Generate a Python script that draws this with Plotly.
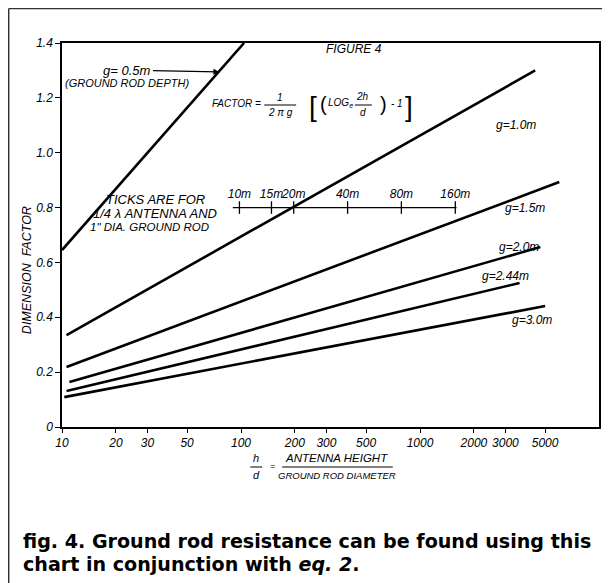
import plotly.graph_objects as go

# lines of the chart, one per ground rod depth g (straight on the log axis)
g_labels = ["g= 0.5m", "g=1.0m", "g=1.5m", "g=2.0m", "g=2.44m", "g=3.0m"]
hd_start = [10, 10.6, 10.6, 11, 10.6, 10.3]
hd_end = [104, 4400, 6000, 4700, 3600, 5000]
y_start = [0.645, 0.335, 0.219, 0.164, 0.131, 0.109]
y_end = [1.40, 1.30, 0.893, 0.656, 0.525, 0.441]

# quarter-wave antenna ticks (1" rod)
scale_labels = ["10m", "15m", "20m", "40m", "80m", "160m"]
scale_hd = [98, 148, 197, 394, 787, 1575]
scale_y = 0.80
scale_span = [90, 1600]

x_ticks = [10, 20, 30, 50, 100, 200, 300, 500, 1000, 2000, 3000, 5000]
y_ticks = [0, 0.2, 0.4, 0.6, 0.8, 1.0, 1.2, 1.4]
y_ticktext = ["0", "0.2", "0.4", "0.6", "0.8", "1.0", "1.2", "1.4"]

FONT = "Liberation Sans"
# page body has an 8px margin, so window pixels are shifted by OFF
OFF = 8
W, H = 610 - OFF, 583 - OFF
L, R, T, B = 62, 601, 43, 427


def px(x):
    return (x - L) / (R - L)


def py(y):
    return (B - y) / (B - T)


fig = go.Figure()
for i in range(len(g_labels)):
    fig.add_trace(go.Scatter(
        x=[hd_start[i], hd_end[i]], y=[y_start[i], y_end[i]],
        mode="lines", line=dict(color="black", width=2.6),
        name=g_labels[i], showlegend=False, cliponaxis=False,
    ))

fig.add_trace(go.Scatter(
    x=scale_span, y=[scale_y, scale_y], mode="lines",
    line=dict(color="black", width=1.2), showlegend=False,
))
fig.add_trace(go.Scatter(
    x=scale_hd, y=[scale_y] * len(scale_hd), mode="markers+text",
    marker=dict(symbol="line-ns-open", size=9, color="black",
                line=dict(color="black", width=1.3)),
    text=["<i>%s</i>" % s for s in scale_labels], textposition="top center",
    textfont=dict(family=FONT, size=12, color="black"), showlegend=False,
))

anns = []


def ann(text, x, y, size=12, xanchor="left", yanchor="middle", **kw):
    anns.append(dict(text=text, x=px(x), y=py(y), xref="paper", yref="paper",
                     xanchor=xanchor, yanchor=yanchor, showarrow=False,
                     font=dict(family=kw.pop("family", FONT), size=size, color="black"), **kw))


# curve labels
ann("<i>g=1.0m</i>", 496, 125)
ann("<i>g=1.5m</i>", 505, 208)
ann("<i>g=2.0m</i>", 499, 247)
ann("<i>g=2.44m</i>", 482, 276)
ann("<i>g=3.0m</i>", 512, 320)
ann("<i>(GROUND ROD DEPTH)</i>", 63, 83, size=11)
anns.append(dict(text="<i>g= 0.5m</i>", x=px(220), y=py(72), xref="paper", yref="paper",
                 ax=-92, ay=-2, showarrow=True, arrowhead=2, arrowsize=1,
                 arrowwidth=1.2, arrowcolor="black",
                 font=dict(family=FONT, size=13, color="black")))
ann("<i>FIGURE 4</i>", 355, 49, xanchor="center", size=12)
ann("<i>TICKS ARE FOR</i>", 156, 199, xanchor="center", size=13)
ann("<i>1/4 \u03bb ANTENNA AND</i>", 155, 213, xanchor="center", size=13)
ann("<i>1\" DIA. GROUND ROD</i>", 150, 227, xanchor="center", size=11.5)

# formula
ann("<i>FACTOR =</i>", 211, 104, size=10)
ann("<i>1</i>", 281, 97, xanchor="center", size=10)
ann("<i>2 \u03c0 g</i>", 281, 113, xanchor="center", size=10)
ann("[", 314, 107, xanchor="center", size=28)
ann("(", 324, 104, xanchor="center", size=20)
ann("<i>LOG<sub>e</sub></i>", 327, 103, size=10)
ann("<i>2h</i>", 364, 96, xanchor="center", size=10)
ann("<i>d</i>", 364, 113, xanchor="center", size=10)
ann(")", 385, 104, xanchor="center", size=20)
ann("<i>- 1</i>", 390, 103, size=10)
ann("]", 410, 107, xanchor="center", size=28)

# axis titles
ann("<i>DIMENSION  FACTOR</i>", 27, 270, xanchor="center", size=12.5, textangle=-90)
ann("<i>h</i>", 257, 458, xanchor="center", size=11)
ann("<i>d</i>", 257, 475, xanchor="center", size=11)
ann("<i>=</i>", 273, 466, xanchor="center", size=9)
ann("<i>ANTENNA HEIGHT</i>", 338, 458, xanchor="center", size=11.5)
ann("<i>GROUND ROD DIAMETER</i>", 338, 475, xanchor="center", size=9.5)

# caption
ann("<b>fig. 4. Ground rod resistance can be found using this</b>", 21, 541, size=19.1,
    family="DejaVu Sans")
ann("<b>chart in conjunction with <i>eq. 2</i>.</b>", 21, 564, size=19.1,
    family="DejaVu Sans")


def hline(x0, x1, y, w=1):
    return dict(type="line", xref="paper", yref="paper", x0=px(x0), x1=px(x1),
                y0=py(y), y1=py(y), line=dict(color="black", width=w))


shapes = [
    hline(265, 297, 105),
    hline(356, 373, 105),
    hline(251, 263, 467),
    hline(283, 394, 467),
    # page border
    dict(type="line", xref="paper", yref="paper", x0=px(OFF + 0.5), x1=px(610), y0=py(OFF + 0.5),
         y1=py(OFF + 0.5), line=dict(color="#333", width=1.5)),
    dict(type="line", xref="paper", yref="paper", x0=px(OFF + 0.5), x1=px(OFF + 0.5),
         y0=py(OFF + 0.5), y1=py(583), line=dict(color="#333", width=1.5)),
]

fig.update_layout(
    width=W, height=H,
    margin=dict(l=L - OFF, r=W + OFF - R, t=T - OFF, b=H + OFF - B),
    plot_bgcolor="white", paper_bgcolor="white",
    font=dict(family=FONT, color="black"),
    annotations=anns, shapes=shapes,
)
fig.update_xaxes(
    type="log", range=[1, 4], showgrid=False, zeroline=False,
    showline=True, linecolor="black", linewidth=1.5, mirror=True,
    tickvals=x_ticks, ticktext=["<i>%d</i>" % v for v in x_ticks],
    ticks="outside", ticklen=4, tickcolor="black",
    tickfont=dict(family=FONT, size=12, color="black"),
)
fig.update_yaxes(
    range=[0, 1.4], showgrid=False, zeroline=False,
    showline=True, linecolor="black", linewidth=1.5, mirror=True,
    tickvals=y_ticks, ticktext=["<i>%s</i>" % t for t in y_ticktext],
    ticks="outside", ticklen=5, tickcolor="black",
    tickfont=dict(family=FONT, size=12, color="black"),
)

fig.write_html("out.html")
